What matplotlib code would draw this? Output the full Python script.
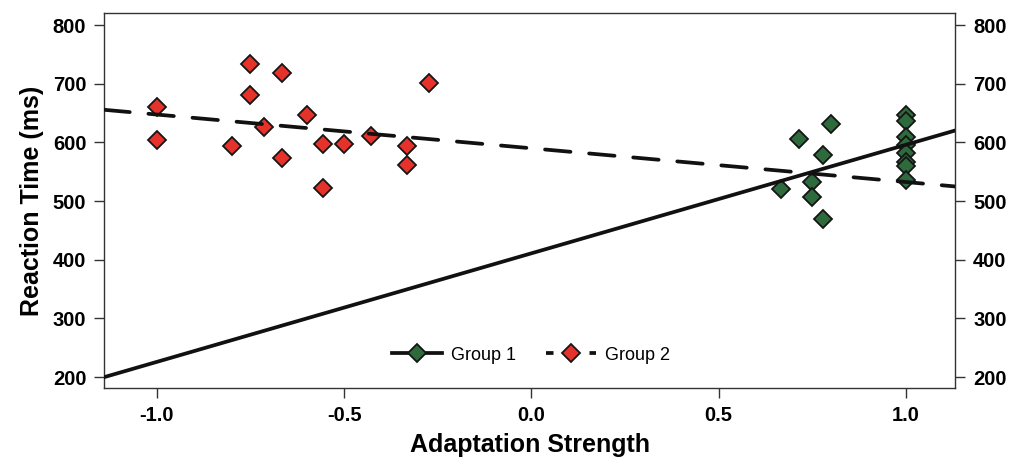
import numpy as np
import matplotlib.pyplot as plt
from matplotlib.lines import Line2D
from matplotlib.ticker import FormatStrFormatter

plt.rcParams['font.family'] = ['Liberation Sans', 'DejaVu Sans']
plt.rcParams['axes.unicode_minus'] = False

# Group 1 (green)
g1_x = [0.667, 0.714, 0.8, 0.778, 0.75, 0.75, 0.778,
        1.0, 1.0, 1.0, 1.0, 1.0, 1.0, 1.0, 1.0]
g1_y = [521, 606, 631, 578, 532, 507, 469,
        646, 637, 610, 595, 582, 567, 560, 536]

# Group 2 (red)
g2_x = [-1.0, -1.0, -0.8, -0.75, -0.75, -0.714, -0.667, -0.667,
        -0.6, -0.556, -0.556, -0.5, -0.429, -0.333, -0.333, -0.273]
g2_y = [660, 604, 594, 733, 681, 627, 719, 573,
        646, 597, 522, 597, 611, 594, 562, 701]

# regression lines (intercept, slope)
g1_fit = (411, 185)
g2_fit = (590, -57.5)

green = '#2d6a3c'
red = '#e5322b'

fig, ax = plt.subplots(figsize=(10.15, 4.65), dpi=100)
fig.subplots_adjust(left=0.1028, right=0.9409, top=0.9714, bottom=0.1662)

xlim = (-1.14, 1.131)
ax.set_xlim(xlim)
ax.set_ylim(182, 820)

mk = dict(marker='D', ms=8.8, mec='#151515', mew=1.3)
ax.plot(g1_x, g1_y, ls='none', mfc=green, zorder=2, **mk)
ax.plot(g2_x, g2_y, ls='none', mfc=red, zorder=2, **mk)

xs = np.array(xlim)
ax.plot(xs, g1_fit[0] + g1_fit[1] * xs, color='#111111', lw=2.7, zorder=3)
ax.plot(xs, g2_fit[0] + g2_fit[1] * xs, color='#111111', lw=2.7,
        dashes=(6.8, 5.0), dash_capstyle='round', zorder=3)

ax.set_xticks([-1.0, -0.5, 0.0, 0.5, 1.0])
ax.set_yticks([200, 300, 400, 500, 600, 700, 800])
ax.xaxis.set_major_formatter(FormatStrFormatter('%.1f'))
ax.tick_params(axis='both', direction='out', length=7, width=1, color='#333333',
               labelsize=14.5, pad=6)
ax.tick_params(axis='y', right=True, labelright=True)
for lab in ax.get_xticklabels() + ax.get_yticklabels():
    lab.set_fontweight('bold')
for t in ax.yaxis.get_major_ticks():
    t.label2.set_fontweight('bold')

for s in ax.spines.values():
    s.set_linewidth(1.0)
    s.set_color('#333333')

ax.set_xlabel('Adaptation Strength', fontsize=18, fontweight='bold', labelpad=6)
ax.set_ylabel('Reaction Time (ms)', fontsize=18, fontweight='bold', labelpad=6)

h1 = Line2D([], [], color='#111111', lw=2.7, mfc=green, **mk)
h2 = Line2D([], [], color='#111111', lw=2.7, mfc=red, dashes=(2.0, 9.6),
            dash_capstyle='butt', **mk)
ax.legend([h1, h2], ['Group 1', 'Group 2'], loc='center', bbox_to_anchor=(0.5016, 0.0873),
          ncol=2, frameon=False, fontsize=13, numpoints=1, handlelength=2.77,
          handletextpad=0.5, columnspacing=1.7)

fig.savefig('out.png', dpi=100)
